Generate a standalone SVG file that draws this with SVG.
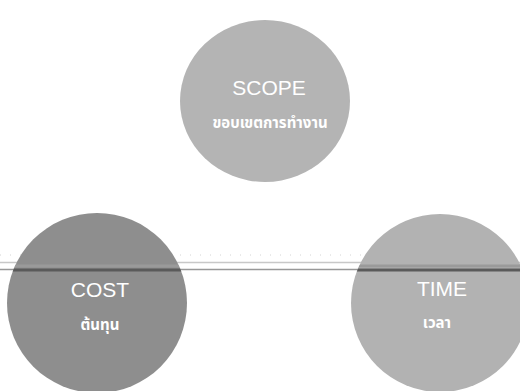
<svg xmlns="http://www.w3.org/2000/svg" width="520" height="391" viewBox="0 0 520 391">
  <style>
    .title { font-family: "Liberation Sans", "Noto Sans Thai", "Noto Sans", sans-serif; font-size: 21px; fill: #ffffff; text-anchor: middle; }
    .sub { font-family: "Liberation Sans", "Noto Sans Thai", "Noto Sans", sans-serif; font-size: 15px; font-weight: bold; fill: #ffffff; text-anchor: middle; }
  </style>
  <defs>
    <clipPath id="lowerCircles">
      <circle cx="97" cy="303" r="90"/>
      <circle cx="440" cy="303" r="89"/>
    </clipPath>
  </defs>
  <rect width="520" height="391" fill="#ffffff"/>

  <!-- horizontal rules running across the page -->
  <g id="connectors">
    <line x1="0" y1="255" x2="520" y2="255" stroke="#d4d4d4" stroke-width="1" stroke-dasharray="1 9"/>
    <line x1="0" y1="262.5" x2="520" y2="262.5" stroke="#c8c8c8" stroke-width="1.5"/>
    <line x1="0" y1="269.5" x2="520" y2="269.5" stroke="#989898" stroke-width="1.5"/>
  </g>

  <g id="scope">
    <ellipse cx="265" cy="101" rx="85" ry="81" fill="#b4b4b4"/>
    <text class="title" x="269" y="95">SCOPE</text>
    <text class="sub" x="270" y="128">ขอบเขตการทำงาน</text>
  </g>

  <g id="cost">
    <circle cx="97" cy="303" r="90" fill="#8e8e8e"/>
    <text class="title" x="100" y="297">COST</text>
    <text class="sub" x="100" y="330">ต้นทุน</text>
  </g>

  <g id="time">
    <circle cx="440" cy="303" r="89" fill="#b2b2b2"/>
    <text class="title" x="442" y="296">TIME</text>
    <text class="sub" x="437" y="328">เวลา</text>
  </g>

  <!-- the rule shows darker where it crosses the lower circles -->
  <g id="rule" clip-path="url(#lowerCircles)">
    <line x1="0" y1="266" x2="520" y2="266" stroke="#9a9a9a" stroke-width="3"/>
    <line x1="0" y1="270" x2="520" y2="270" stroke="#5a5a5a" stroke-width="3"/>
  </g>
</svg>
